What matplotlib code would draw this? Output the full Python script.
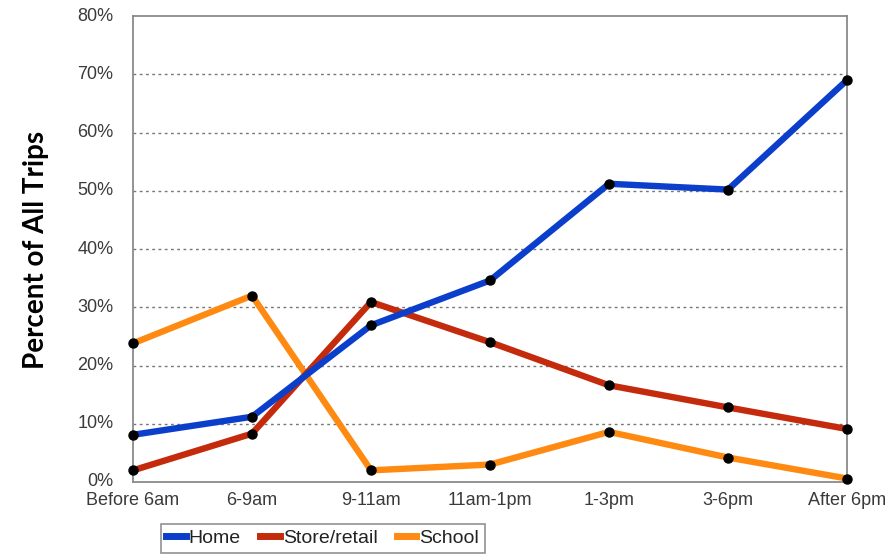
import matplotlib
matplotlib.use("Agg")
import matplotlib.pyplot as plt
from matplotlib.ticker import PercentFormatter
from matplotlib.lines import Line2D

# ---------- data ----------
periods = ["Before 6am", "6-9am", "9-11am", "11am-1pm", "1-3pm", "3-6pm", "After 6pm"]
home = [8.1, 11.2, 26.9, 34.6, 51.2, 50.2, 69.0]
store = [2.0, 8.3, 30.9, 24.0, 16.6, 12.8, 9.1]
school = [23.8, 32.0, 2.0, 3.0, 8.6, 4.2, 0.6]

series = [
    ("School", school, "#FF8A12"),
    ("Store/retail", store, "#C42A0C"),
    ("Home", home, "#0B3FCB"),
]

fig = plt.figure(figsize=(8.89, 5.56), dpi=100)
ax = fig.add_axes([0.1496, 0.1331, 0.8032, 0.8381])

x = list(range(len(periods)))
lines = {}
for name, vals, col in series:
    (ln,) = ax.plot(x, vals, color=col, lw=4.6, solid_capstyle="butt",
                    marker="o", ms=6.5, mfc="black", mec="black", zorder=3,
                    clip_on=False)
    lines[name] = ln

ax.set_xlim(0, len(periods) - 1)
ax.set_ylim(0, 80)
ax.set_yticks(range(0, 81, 10))
ax.yaxis.set_major_formatter(PercentFormatter(decimals=0))
ax.set_xticks(x)
ax.set_xticklabels(periods)

# dotted grid
for v in range(10, 80, 10):
    ax.axhline(v, color="#777777", lw=1.0, ls=(0, (2, 2.5)), zorder=1)

for s in ax.spines.values():
    s.set_color("#8a8a8a")
    s.set_linewidth(1.3)

ax.tick_params(length=0, labelsize=13, labelcolor="#3a3a3a")
ax.tick_params(axis="y", pad=14)
ax.tick_params(axis="x", pad=7)
for lab in ax.get_xticklabels() + ax.get_yticklabels():
    lab.set_family("Liberation Sans")
for lab in ax.get_yticklabels():
    lab.set_verticalalignment("center")

fig.text(0.041, 0.55, "Percent of All Trips", rotation=90, ha="center", va="center",
         fontsize=20, fontweight="bold", family="Lato")

# legend below
proxies = [Line2D([], [], color=lines[n].get_color(), lw=5)
           for n in ["Home", "Store/retail", "School"]]
leg = fig.legend(proxies, ["Home", "Store/retail", "School"], ncol=3,
                 loc="center", bbox_to_anchor=(0.363, 0.032),
                 prop={"family": "Liberation Sans", "size": 14},
                 handlelength=1.0, handletextpad=0.15, columnspacing=1.0,
                 frameon=True, fancybox=False, borderpad=0.3, borderaxespad=0)
leg.get_frame().set_edgecolor("#777777")
leg.get_frame().set_linewidth(1.2)
for t in leg.get_texts():
    t.set_color("#222222")

fig.savefig("out.png", dpi=100)
